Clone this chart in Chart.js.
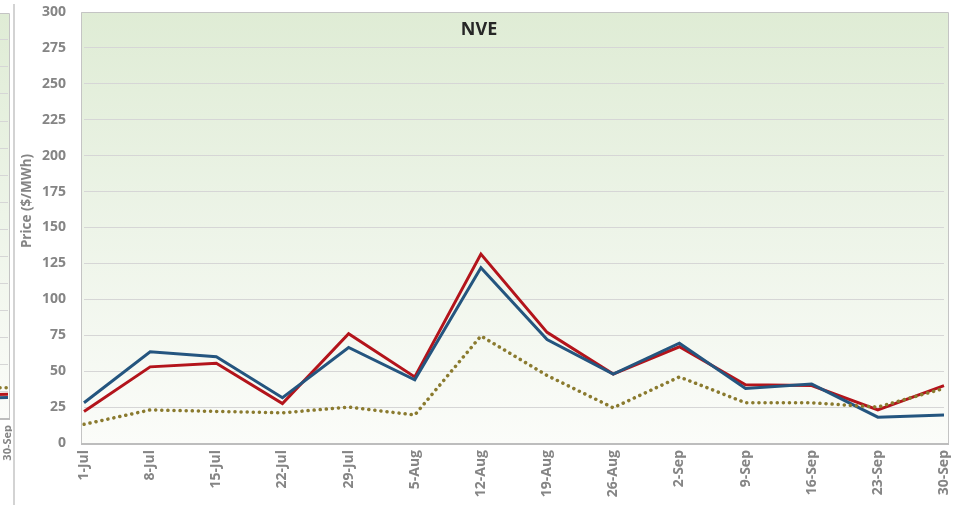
<!DOCTYPE html>
<html>
<head>
<meta charset="utf-8">
<script src="https://cdn.jsdelivr.net/npm/chart.js@4.4.0/dist/chart.umd.min.js"></script>
<style>
  body { margin: 0; background: #fff; }
  #wrap { position: relative; width: 953px; height: 505px; overflow: hidden; }
  #nveChart { position: absolute; left: 0; top: 0; }
  #prevBox { position: absolute; left: 0; top: 0; width: 12px; height: 505px; overflow: hidden; background: #fff; }
  #prevChart { position: absolute; left: -290px; top: 0; }
  #divider { position: absolute; left: 13px; top: 4px; width: 2px; height: 501px; background: #d3d3d3; }
</style>
</head>
<body>
<div id="wrap">
  <canvas id="nveChart" width="953" height="505"></canvas>
  <div id="prevBox"><canvas id="prevChart" width="300" height="505"></canvas></div>
  <div id="divider"></div>
</div>
<script>
// weekly prices, $/MWh
const weeks = ["1-Jul", "8-Jul", "15-Jul", "22-Jul", "29-Jul", "5-Aug", "12-Aug",
               "19-Aug", "26-Aug", "2-Sep", "9-Sep", "16-Sep", "23-Sep", "30-Sep"];
const redPrices = [22, 53, 55.5, 27.5, 76, 46, 131.5, 77, 48, 67, 40.5, 40, 23, 40];
const bluePrices = [28, 63.5, 60, 31.5, 66.5, 44, 122, 72, 48, 69.5, 38, 41, 18, 19.5];
const dottedPrices = [13, 23, 22, 21, 25, 19.5, 74.5, 47, 24.5, 46, 28, 28, 25, 38];
const yMax = 300;
const yStep = 25;

// tail end of the neighbouring panel on the left
const prevWeeks = ["23-Sep", "30-Sep"];
const prevRed = [17, 22];
const prevBlue = [14, 19];
const prevDotted = [27, 28];

const grey = "#858585";
const tickFont = { family: "Open Sans", size: 14, weight: "bold" };

// light green fade behind the plot, frame, panel title and axis title
const plotBackground = {
  id: "plotBackground",
  beforeDraw(chart, args, opts) {
    const { ctx, chartArea: a } = chart;
    const l = a.left - opts.padL, r = a.right + opts.padR;
    const g = ctx.createLinearGradient(0, a.top, 0, a.bottom);
    g.addColorStop(0, "#dfecd5");
    g.addColorStop(0.5, "#edf4e8");
    g.addColorStop(1, "#fbfcf9");
    ctx.save();
    ctx.fillStyle = g;
    ctx.fillRect(l, a.top, r - l, a.bottom - a.top);
    ctx.restore();
  },
  afterDraw(chart, args, opts) {
    const { ctx, chartArea: a } = chart;
    const l = a.left - opts.padL, r = a.right + opts.padR;
    ctx.save();
    ctx.strokeStyle = "#c4c4c4";
    ctx.lineWidth = 1;
    ctx.beginPath();
    ctx.moveTo(l + 0.5, a.bottom);
    ctx.lineTo(l + 0.5, a.top + 0.5);
    ctx.lineTo(r + 0.5, a.top + 0.5);
    ctx.lineTo(r + 0.5, a.bottom);
    ctx.stroke();
    ctx.strokeStyle = "#bdbdbd";
    ctx.lineWidth = 2;
    ctx.beginPath();
    ctx.moveTo(l, a.bottom + 1);
    ctx.lineTo(r + 1, a.bottom + 1);
    ctx.stroke();
    if (opts.title) {
      ctx.fillStyle = "#262626";
      ctx.font = "bold 18px 'Open Sans'";
      ctx.textAlign = "center";
      ctx.textBaseline = "middle";
      ctx.fillText(opts.title, 479, 30);
    }
    if (opts.axisTitle) {
      ctx.translate(27, 201);
      ctx.rotate(-Math.PI / 2);
      ctx.fillStyle = grey;
      ctx.font = "bold 13.5px 'Open Sans'";
      ctx.textAlign = "center";
      ctx.textBaseline = "middle";
      ctx.fillText(opts.axisTitle, 0, 0);
    }
    ctx.restore();
  }
};

function lineSet(label, data, color, dotted) {
  return {
    label: label,
    data: data,
    borderColor: color,
    borderWidth: dotted ? 3.5 : 3,
    borderDash: dotted ? [0.1, 6] : [],
    borderCapStyle: dotted ? "round" : "butt",
    pointRadius: 0,
    tension: 0,
    fill: false
  };
}

// fixed axis sizes, no automatic label overhang
function fixBox(size, horizontal) {
  return function (scale) {
    if (horizontal) scale.height = size; else scale.width = size;
    scale.paddingTop = 0;
    scale.paddingBottom = 0;
    scale.paddingLeft = 0;
    scale.paddingRight = 0;
  };
}

new Chart(document.getElementById("nveChart"), {
  type: "line",
  data: {
    labels: weeks,
    datasets: [
      lineSet("Price C", dottedPrices, "#8a7a2e", true),
      lineSet("Price B", bluePrices, "#24557f", false),
      lineSet("Price A", redPrices, "#b3141b", false)
    ]
  },
  options: {
    responsive: false,
    animation: false,
    layout: { padding: { top: 12, right: 9, left: 0, bottom: 0 } },
    plugins: {
      legend: { display: false },
      tooltip: { enabled: false },
      plotBackground: { padL: 3, padR: 4, title: "NVE", axisTitle: "Price ($/MWh)" }
    },
    scales: {
      x: {
        offset: false,
        afterFit: fixBox(62, true),
        grid: { display: false, drawTicks: false },
        border: { display: false },
        ticks: { color: grey, font: tickFont, maxRotation: 90, minRotation: 90, padding: 7, autoSkip: false }
      },
      y: {
        min: 0,
        max: yMax,
        afterFit: fixBox(84, false),
        grid: { color: "#d6d6d6", lineWidth: 1, drawTicks: false },
        border: { display: false },
        ticks: { stepSize: yStep, color: grey, font: tickFont, padding: 18 }
      }
    }
  },
  plugins: [plotBackground]
});

const prevChart = new Chart(document.getElementById("prevChart"), {
  type: "line",
  data: {
    labels: prevWeeks,
    datasets: [
      lineSet("Price C", prevDotted, "#8a7a2e", true),
      lineSet("Price B", prevBlue, "#24557f", false),
      lineSet("Price A", prevRed, "#b3141b", false)
    ]
  },
  options: {
    responsive: false,
    animation: false,
    layout: { padding: { top: 13, right: 8, left: 0, bottom: 0 } },
    plugins: {
      legend: { display: false },
      tooltip: { enabled: false },
      plotBackground: { padL: 0, padR: 1 }
    },
    scales: {
      x: {
        offset: false,
        afterFit: fixBox(87, true),
        grid: { display: false, drawTicks: false },
        border: { display: false },
        ticks: { color: grey, font: { family: "Open Sans", size: 11, weight: "bold" },
                 maxRotation: 90, minRotation: 90, padding: 7, autoSkip: false }
      },
      y: {
        min: 0,
        max: 375,
        afterFit: fixBox(40, false),
        grid: { color: "#d6d6d6", lineWidth: 1, drawTicks: false },
        border: { display: false },
        ticks: { stepSize: 25, display: false }
      }
    }
  },
  plugins: [plotBackground]
});

// slide the neighbouring panel so only its right edge peeks out
document.getElementById("prevChart").style.left = (8 - prevChart.chartArea.right) + "px";
</script>
</body>
</html>
